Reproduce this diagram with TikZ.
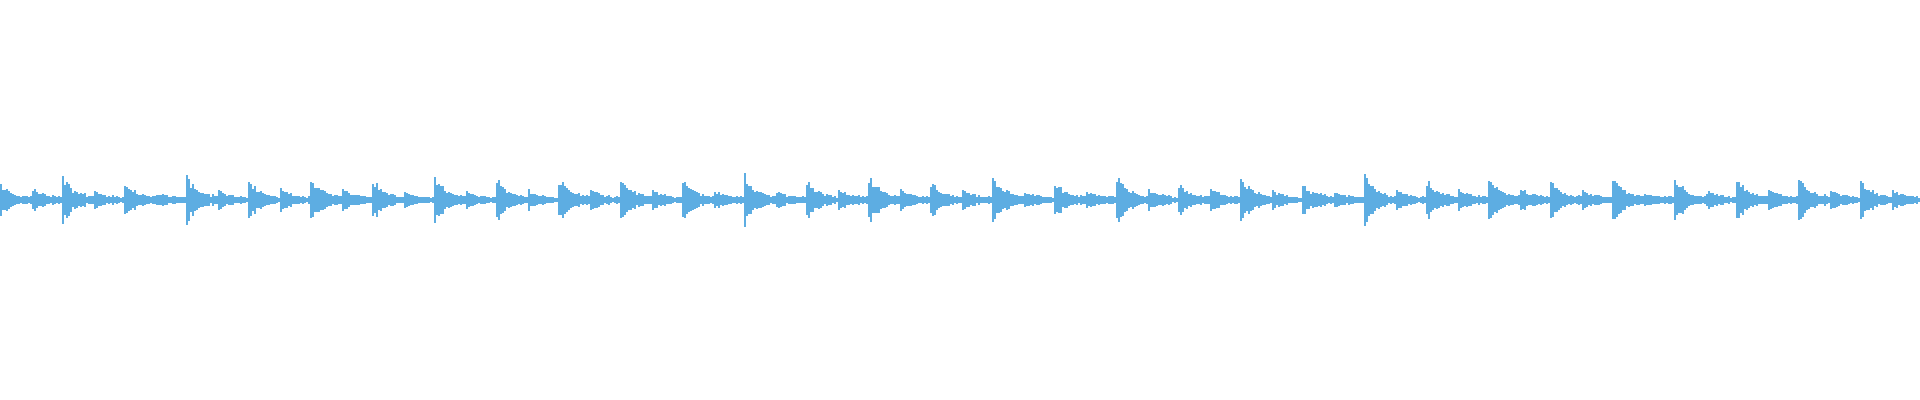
\documentclass[tikz,border=0pt]{standalone}
\definecolor{wave}{HTML}{5DADE2}
\begin{document}
\begin{tikzpicture}[x=0.01cm,y=0.01cm]
\useasboundingbox (0,-200) rectangle (1920,200);
\pgfmathsetseed{7}
\foreach \i in {0,...,959}{
  \pgfmathsetmacro{\xa}{2*\i}
  \pgfmathsetmacro{\beat}{floor(\xa/31)}
  \pgfmathsetmacro{\t}{\xa-31*\beat}
  \pgfmathsetmacro{\pk}{ifthenelse(mod(\beat,2)==0,15+10*abs(sin(\beat*137.5)),6+5*abs(sin(\beat*71.3)))}
  \pgfmathsetmacro{\amp}{1.5+\pk*exp(-\t/11)*(0.55+0.45*rnd)+2*rnd}
  \fill[wave] (\xa,-\amp) rectangle ++(1.8,2*\amp);
}
\end{tikzpicture}
\end{document}
